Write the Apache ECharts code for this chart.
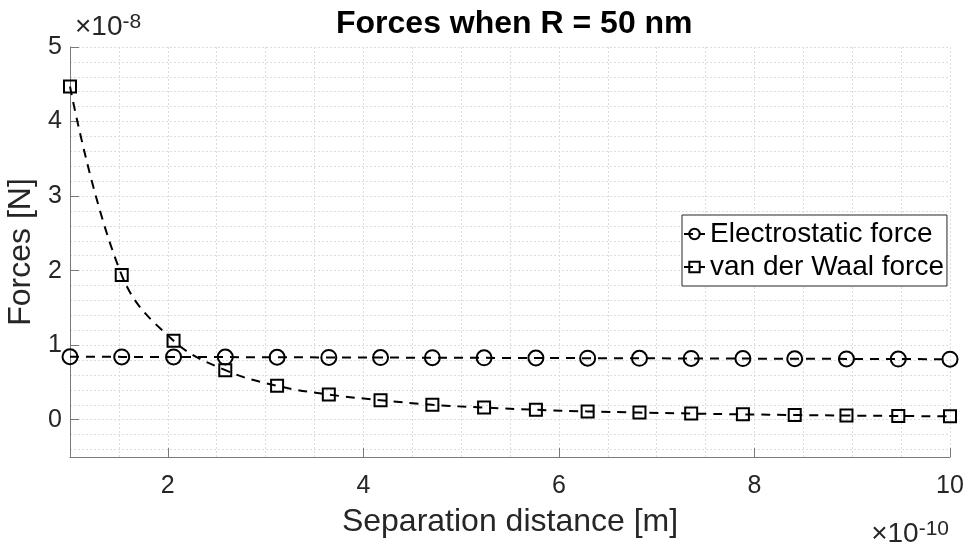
<!DOCTYPE html>
<html>
<head>
<meta charset="utf-8">
<script src="https://cdn.jsdelivr.net/npm/echarts@6/dist/echarts.min.js"></script>
<style>
html,body{margin:0;padding:0;background:#fff;}
#chart{width:968px;height:549px;}
</style>
</head>
<body>
<div id="chart"></div>
<script>
// Separation distance (units of 1e-10 m)
const separation = [1.000, 1.529, 2.059, 2.588, 3.118, 3.647, 4.176, 4.706, 5.235, 5.765, 6.294, 6.824, 7.353, 7.882, 8.412, 8.941, 9.471, 10.000];
// Forces (units of 1e-8 N)
const electrostatic = [0.845, 0.843, 0.842, 0.840, 0.838, 0.836, 0.834, 0.832, 0.830, 0.828, 0.826, 0.824, 0.822, 0.820, 0.818, 0.816, 0.814, 0.812];
const vanDerWaals = [4.47, 1.94, 1.06, 0.665, 0.455, 0.338, 0.262, 0.200, 0.163, 0.133, 0.112, 0.096, 0.083, 0.072, 0.063, 0.056, 0.050, 0.045];
const xTickValues = [2, 4, 6, 8, 10];
const yTickValues = [0, 1, 2, 3, 4, 5];
const yGridValues = [-0.4, -0.2, 0, 0.2, 0.4, 0.6, 0.8, 1, 1.2, 1.4, 1.6, 1.8, 2, 2.2, 2.4, 2.6, 2.8, 3, 3.2, 3.4, 3.6, 3.8, 4, 4.2, 4.4, 4.6, 4.8, 5];
const seriesNames = ['Electrostatic force', 'van der Waal force'];

const FONT = '"Liberation Sans", Arial, Helvetica, sans-serif';
const TXT = '#262626';
const AXIS = '#7a7a7a';
const GRIDC = '#dcdcdc';

const chart = echarts.init(document.getElementById('chart'), null, {renderer: 'canvas'});

function pairs(xs, ys) { return xs.map((x, i) => [x, ys[i]]); }

const option = {
  backgroundColor: '#ffffff',
  animation: false,
  textStyle: {fontFamily: FONT},
  title: [
    {
      text: 'Forces when R = 50 nm',
      left: 331,
      top: 3,
      textStyle: {fontFamily: FONT, fontSize: 32, fontWeight: 'bold', color: '#000'}
    },
    {
      text: '×10{sup|-8}',
      left: 70,
      top: 7,
      textStyle: {fontFamily: FONT, fontSize: 28, color: TXT, fontWeight: 'normal',
        rich: {sup: {fontFamily: FONT, fontSize: 21, color: TXT, verticalAlign: 'top', padding: [0, 0, 10, 0]}}}
    },
    {
      text: '×10{sup|-10}',
      right: 14,
      top: 514,
      textStyle: {fontFamily: FONT, fontSize: 28, color: TXT, fontWeight: 'normal',
        rich: {sup: {fontFamily: FONT, fontSize: 21, color: TXT, verticalAlign: 'top', padding: [0, 0, 10, 0]}}}
    }
  ],
  grid: {left: 70, right: 18, top: 47, bottom: 92, containLabel: false, outerBoundsMode: 'none'},
  legend: {
    data: seriesNames,
    orient: 'vertical',
    left: 682,
    top: 215,
    padding: [5, 3, 5, 1],
    itemGap: 5,
    itemWidth: 21,
    itemHeight: 13,
    backgroundColor: '#ffffff',
    borderColor: '#262626',
    borderWidth: 1,
    textStyle: {fontFamily: FONT, fontSize: 28, color: '#000'}
  },
  xAxis: [
    {
      type: 'value', min: 1, max: 10, interval: 0.5,
      axisLine: {show: false}, axisTick: {show: false}, axisLabel: {show: false},
      splitLine: {show: true, lineStyle: {color: GRIDC, type: [2, 2], width: 1}}
    },
    {
      type: 'value', min: 1, max: 10, position: 'bottom',
      name: 'Separation distance [m]', nameLocation: 'middle', nameGap: 49,
      nameTextStyle: {fontFamily: FONT, fontSize: 32, color: TXT},
      axisLine: {show: true, onZero: false, lineStyle: {color: AXIS, width: 1}},
      axisTick: {show: true, inside: true, length: 9, customValues: xTickValues, lineStyle: {color: AXIS}},
      axisLabel: {show: true, customValues: xTickValues, fontSize: 25, color: TXT, margin: 17, fontFamily: FONT},
      splitLine: {show: false}
    }
  ],
  yAxis: [
    {
      type: 'value', min: -0.5, max: 5,
      axisLine: {show: false}, axisTick: {show: false, customValues: yGridValues}, axisLabel: {show: false},
      splitLine: {show: true, lineStyle: {color: GRIDC, type: [2, 2], width: 1}}
    },
    {
      type: 'value', min: -0.5, max: 5, position: 'left',
      name: 'Forces [N]', nameLocation: 'middle', nameGap: 30, nameRotate: 90,
      nameTextStyle: {fontFamily: FONT, fontSize: 32, color: TXT},
      axisLine: {show: true, onZero: false, lineStyle: {color: AXIS, width: 1}},
      axisTick: {show: true, inside: true, length: 9, customValues: yTickValues, lineStyle: {color: AXIS}},
      axisLabel: {show: true, customValues: yTickValues, fontSize: 25, color: TXT, margin: 8, fontFamily: FONT},
      splitLine: {show: false}
    }
  ],
  series: [
    {
      name: seriesNames[0],
      type: 'line',
      xAxisIndex: 0, yAxisIndex: 0,
      data: pairs(separation, electrostatic),
      symbol: 'circle',
      symbolSize: 15,
      showAllSymbol: true,
      itemStyle: {color: 'rgba(255,255,255,0)', borderColor: '#000', borderWidth: 2},
      lineStyle: {color: '#000', width: 2, type: [9, 7]},
      z: 3
    },
    {
      name: seriesNames[1],
      type: 'line',
      xAxisIndex: 0, yAxisIndex: 0,
      data: pairs(separation, vanDerWaals),
      symbol: 'rect',
      symbolSize: 12,
      showAllSymbol: true,
      smooth: 0.4,
      itemStyle: {color: 'rgba(255,255,255,0)', borderColor: '#000', borderWidth: 2},
      lineStyle: {color: '#000', width: 2, type: [9, 7]},
      z: 3
    }
  ]
};
chart.setOption(option);
</script>
</body>
</html>
